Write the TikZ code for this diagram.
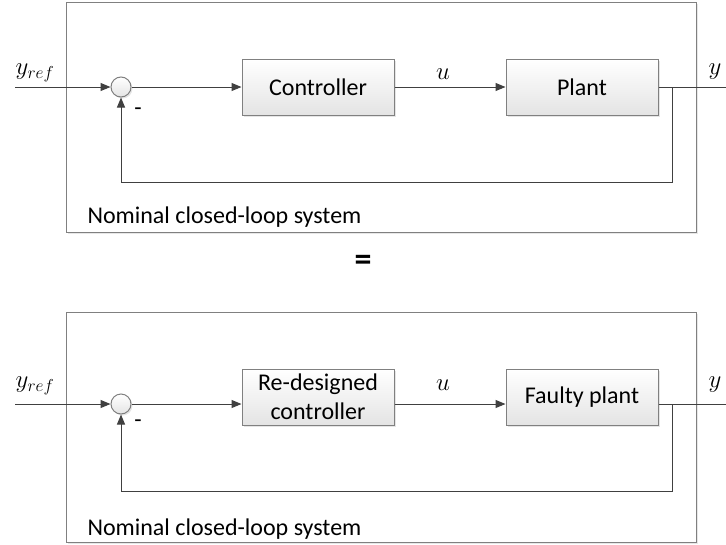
\documentclass[tikz,border=0pt]{standalone}
\usepackage{fontspec}
\setmainfont{Carlito}
\usetikzlibrary{arrows.meta,shadows}
\definecolor{wire}{HTML}{404040}
\definecolor{edge}{HTML}{808080}
\definecolor{boxlow}{HTML}{E4E4E4}
\begin{document}
\begin{tikzpicture}[x=1pt,y=-1pt,
  txt/.style={font=\fontsize{24}{29}\selectfont},
  blk/.style={draw=edge, line width=1pt, top color=white, bottom color=boxlow,
    minimum width=152pt, minimum height=56pt, inner sep=0pt, align=center, txt,
    drop shadow={shadow xshift=2pt, shadow yshift=-2pt, opacity=0.25, fill=black!40}},
  sumnode/.style={circle, draw=edge, line width=1pt, top color=white, bottom color=boxlow,
    minimum size=20pt, inner sep=0pt,
    drop shadow={shadow xshift=1.5pt, shadow yshift=-1.5pt, opacity=0.25, fill=black!40}},
  frame/.style={draw=edge, line width=1pt, fill=white,
    drop shadow={shadow xshift=2pt, shadow yshift=-2pt, opacity=0.3, fill=black!30}},
  sig/.style={draw=wire, line width=1pt},
  arr/.style={sig, -{Triangle[length=10pt,width=8pt]}},
  mathlbl/.style={font=\fontsize{25}{30}\selectfont}
]
\useasboundingbox[fill=white] (0,0) rectangle (726,544);

% ---------- nominal loop ----------
\path[frame] (66,2) rectangle (696,232);
\node[sumnode] (s1) at (121,87) {};
\node[blk] (c1) at (318,87) {Controller};
\node[blk] (p1) at (582,87) {Plant};
\coordinate (in1) at (15,87);
\coordinate (out1) at (726,87);
\coordinate (br1) at (672,87);
\coordinate (fb1) at (672,182);
\coordinate (fb1l) at (121,182);
\draw[arr] (in1) -- (s1.west);
\draw[arr] (s1.east) -- (c1.west);
\draw[arr] (c1.east) -- (p1.west);
\draw[sig] (p1.east) -- (out1);
\draw[arr] (br1) -- (fb1) -- (fb1l) -- (s1.south);
\node[mathlbl] (yr1) at (35,73) {$y_{ref}$};
\node[mathlbl] (u1) at (443,74) {$u$};
\node[mathlbl] (y1) at (715,72) {$y$};
\node[txt] (m1) at (138,112) {-};
\node[txt, anchor=west] (t1) at (84,217) {Nominal closed-loop system};

% ---------- equality sign ----------
\node[font=\fontsize{34}{40}\selectfont\bfseries] (eq) at (363,263) {=};

% ---------- reconfigured loop ----------
\path[frame] (66,312) rectangle (696,542);
\node[sumnode] (s2) at (121,404) {};
\node[blk] (c2) at (318,397) {Re-designed\\controller};
\node[blk] (p2) at (582,397) {Faulty plant};
\coordinate (in2) at (15,404);
\coordinate (out2) at (726,404);
\coordinate (br2) at (672,404);
\coordinate (fb2) at (672,491);
\coordinate (fb2l) at (121,491);
\draw[arr] (in2) -- (s2.west);
\draw[arr] (s2.east) -- (c2.west |- s2.east);
\draw[arr] (c2.east |- s2.east) -- (p2.west |- s2.east);
\draw[sig] (p2.east |- s2.east) -- (out2);
\draw[arr] (br2) -- (fb2) -- (fb2l) -- (s2.south);
\node[mathlbl] (yr2) at (35,386) {$y_{ref}$};
\node[mathlbl] (u2) at (443,385) {$u$};
\node[mathlbl] (y2) at (715,385) {$y$};
\node[txt] (m2) at (138,424) {-};
\node[txt, anchor=west] (t2) at (84,529) {Nominal closed-loop system};
\end{tikzpicture}
\end{document}
